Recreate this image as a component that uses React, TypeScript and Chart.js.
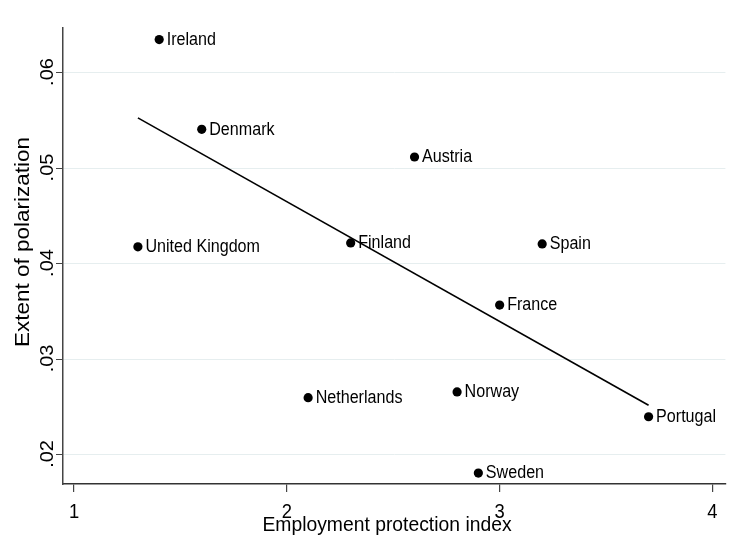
import React, { useEffect, useRef } from "react";
import { Chart, registerables } from "chart.js";

Chart.register(...registerables);

const countries = [
  "Ireland", "Denmark", "Austria", "United Kingdom", "Finland", "Spain",
  "France", "Netherlands", "Norway", "Portugal", "Sweden",
];
const epIndex = [1.4, 1.6, 2.6, 1.3, 2.3, 3.2, 3.0, 2.1, 2.8, 3.7, 2.9];
const polarization = [0.0635, 0.0541, 0.0512, 0.0418, 0.0422, 0.0421, 0.0357, 0.026, 0.0266, 0.024, 0.0181];
const fitX = [1.3, 3.7];
const fitY = [0.0553, 0.0252];
const xTicks = [1, 2, 3, 4];
const xTickLabels = ["1", "2", "3", "4"];
const yTicks = [0.02, 0.03, 0.04, 0.05, 0.06];
const yTickLabels = [".02", ".03", ".04", ".05", ".06"];
const xTitle = "Employment protection index";
const yTitle = "Extent of polarization";

const FONT = '"Liberation Sans", Arial, sans-serif';
const SX = 0.92;

const textPlugin = {
  id: "textPlugin",
  afterDraw(chart: any) {
    const ctx = chart.ctx as CanvasRenderingContext2D;
    const xs = chart.scales.x;
    const ys = chart.scales.y;
    ctx.save();
    ctx.fillStyle = "#000";
    // point labels
    const meta = chart.getDatasetMeta(1);
    meta.data.forEach((el: any, i: number) => {
      ctx.save();
      ctx.translate(el.x + 7.5, el.y + 0.5);
      ctx.scale(SX, 1);
      ctx.font = `17.5px ${FONT}`;
      ctx.textAlign = "left";
      ctx.textBaseline = "middle";
      ctx.fillText(countries[i], 0, 0);
      ctx.restore();
    });
    // x tick labels
    xTicks.forEach((v, i) => {
      ctx.save();
      ctx.translate(xs.getPixelForValue(v), 518);
      ctx.scale(SX, 1);
      ctx.font = `20px ${FONT}`;
      ctx.textAlign = "center";
      ctx.textBaseline = "alphabetic";
      ctx.fillText(xTickLabels[i], 0, 0);
      ctx.restore();
    });
    // y tick labels (rotated)
    yTicks.forEach((v, i) => {
      ctx.save();
      ctx.translate(53, ys.getPixelForValue(v) - 1);
      ctx.scale(SX, 1);
      ctx.rotate(-Math.PI / 2);
      ctx.font = `20px ${FONT}`;
      ctx.textAlign = "center";
      ctx.textBaseline = "alphabetic";
      ctx.fillText(yTickLabels[i], 0, 0);
      ctx.restore();
    });
    // x title
    ctx.save();
    ctx.translate(387, 531);
    ctx.scale(SX, 1);
    ctx.font = `21px ${FONT}`;
    ctx.textAlign = "center";
    ctx.textBaseline = "alphabetic";
    ctx.fillText(xTitle, 0, 0);
    ctx.restore();
    // y title
    ctx.save();
    ctx.translate(29, 242);
    ctx.scale(SX, 1);
    ctx.rotate(-Math.PI / 2);
    ctx.font = `22.5px ${FONT}`;
    ctx.textAlign = "center";
    ctx.textBaseline = "alphabetic";
    ctx.fillText(yTitle, 0, 0);
    ctx.restore();
    ctx.restore();
  },
};

export default function App() {
  const ref = useRef<HTMLCanvasElement | null>(null);
  useEffect(() => {
    if (!ref.current) return;
    const chart = new Chart(ref.current, {
      type: "scatter",
      data: {
        datasets: [
          {
            type: "line",
            data: fitX.map((x, i) => ({ x, y: fitY[i] })),
            borderColor: "#000",
            borderWidth: 1.6,
            pointRadius: 0,
            fill: false,
          } as any,
          {
            data: epIndex.map((x, i) => ({ x, y: polarization[i] })),
            backgroundColor: "#000",
            borderWidth: 0,
            pointRadius: 4.6,
          },
        ],
      },
      options: {
        responsive: false,
        animation: false,
        devicePixelRatio: 1,
        layout: { padding: { top: 28, right: 4, left: 0, bottom: 0 } },
        plugins: { legend: { display: false }, tooltip: { enabled: false } },
        scales: {
          x: {
            type: "linear",
            min: 0.948,
            max: 4.061,
            afterBuildTicks: (s: any) => {
              s.ticks = xTicks.map((v) => ({ value: v }));
            },
            afterFit: (s: any) => {
              s.height = 53;
            },
            ticks: { display: false },
            grid: { drawOnChartArea: false, drawTicks: true, tickLength: 8, tickColor: "#444", lineWidth: 1.2 },
            border: { color: "#333", width: 1.5 },
          },
          y: {
            type: "linear",
            min: 0.01696,
            max: 0.06471,
            afterBuildTicks: (s: any) => {
              s.ticks = yTicks.map((v) => ({ value: v }));
            },
            afterFit: (s: any) => {
              s.width = 63;
            },
            ticks: { display: false },
            grid: { color: "#e6eeef", lineWidth: 1, drawTicks: true, tickLength: 7, tickColor: "#444" },
            border: { color: "#444", width: 1.5 },
          },
        },
      },
      plugins: [textPlugin],
    });
    return () => chart.destroy();
  }, []);
  return (
    <div style={{ position: "absolute", left: 0, top: 0, width: 730, height: 537, background: "#fff" }}>
      <canvas ref={ref} width={730} height={537} />
    </div>
  );
}
